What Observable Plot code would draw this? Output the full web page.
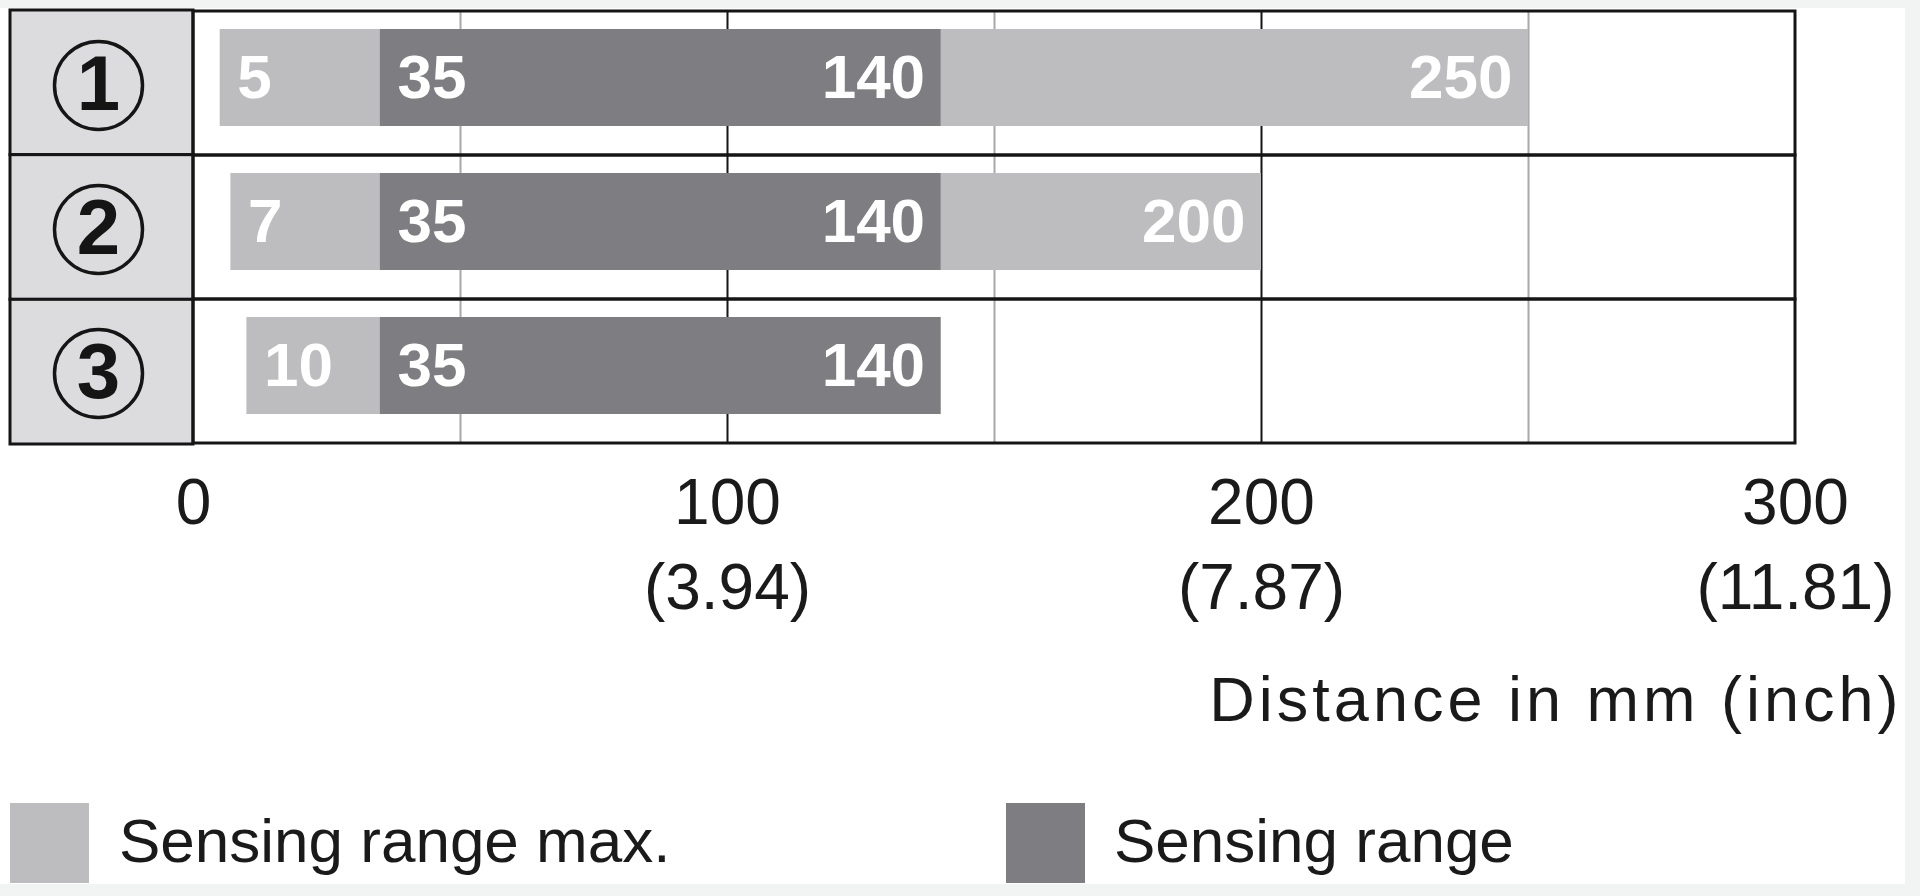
<!DOCTYPE html>
<html>
<head>
<meta charset="utf-8">
<script src="https://cdn.jsdelivr.net/npm/d3@7"></script>
<script src="https://cdn.jsdelivr.net/npm/@observablehq/plot@0.6"></script>
<style>
  html, body { margin: 0; padding: 0; width: 1920px; height: 896px; overflow: hidden; background: #f2f4f3;
    font-family: "Liberation Sans", Arial, sans-serif; color: #1a1a1a; }
  #panel { position: absolute; left: 0; top: 8px; width: 1905px; height: 876px; background: #ffffff; }
  #chart { position: absolute; left: 0; top: 0; }
  .lg-sw { position: absolute; top: 803px; width: 79px; height: 80px; }
  .lg-tx { position: absolute; top: 801px; height: 80px; line-height: 80px; font-size: 62px; color: #1a1a1a; white-space: nowrap; }
</style>
</head>
<body>
<div id="panel"></div>
<div id="chart"></div>
<div id="legend"></div>
<script>
// ---- data ----
const rows = ["1", "2", "3"];
const rowLabels = ["1", "2", "3"];
const maxStart = [5, 7, 10];
const rangeStart = [35, 35, 35];
const rangeEnd = [140, 140, 140];
const maxEnd = [250, 200, 140];
const mmTicks = [0, 100, 200, 300];
const inchTicks = ["", "(3.94)", "(7.87)", "(11.81)"];
const minorGrid = [50, 150, 250];
const majorGrid = [100, 200];
const axisTitle = "Distance in mm (inch)";
const legendLabels = ["Sensing range max.", "Sensing range"];
const colorMax = "#bdbdbf";
const colorRange = "#7e7e82";

const data = rows.map((r, i) => ({
  row: r, label: rowLabels[i],
  maxStart: maxStart[i], rangeStart: rangeStart[i], rangeEnd: rangeEnd[i], maxEnd: maxEnd[i]
}));

const W = 1920, H = 760;
const mTop = 10, mLeft = 193, mRight = 125, mBottom = H - 444;

function labelColumn(index, scales, values, dims) {
  const rowH = (dims.height - dims.marginTop - dims.marginBottom) / rows.length;
  const g = d3.create("svg:g");
  g.selectAll("rect").data(rows).join("rect")
    .attr("x", 10)
    .attr("width", dims.marginLeft - 10)
    .attr("y", (d, i) => dims.marginTop + i * rowH)
    .attr("height", rowH)
    .attr("fill", "#dcdcdf")
    .attr("stroke", "#151515")
    .attr("stroke-width", 3);
  return g.node();
}

const labelFont = { fontSize: 62, fontWeight: 600, fill: "white", dy: -5 };

const chart = Plot.plot({
  width: W, height: H,
  marginTop: mTop, marginLeft: mLeft, marginRight: mRight, marginBottom: mBottom,
  style: { fontFamily: "'Liberation Sans', Arial, sans-serif", color: "#1a1a1a", background: "transparent", overflow: "visible" },
  x: { domain: [mmTicks[0], mmTicks[mmTicks.length - 1]] },
  y: { domain: rows, padding: 0, axis: null },
  marks: [
    labelColumn,
    Plot.ruleX(minorGrid, { stroke: "#a8a8a8", strokeWidth: 2 }),
    Plot.ruleX(majorGrid, { stroke: "#151515", strokeWidth: 2 }),
    Plot.barX(data, { y: "row", x1: "maxStart", x2: "maxEnd", fill: colorMax, insetTop: 18, insetBottom: 29 }),
    Plot.barX(data, { y: "row", x1: "rangeStart", x2: "rangeEnd", fill: colorRange, insetTop: 18, insetBottom: 29 }),
    Plot.barX(data, { y: "row", x1: mmTicks[0], x2: mmTicks[mmTicks.length - 1], fill: "none", stroke: "#151515", strokeWidth: 3 }),
    // bar value labels
    Plot.text(data, { y: "row", x: "maxStart", text: d => String(d.maxStart), textAnchor: "start", dx: 17, ...labelFont }),
    Plot.text(data, { y: "row", x: "rangeStart", text: d => String(d.rangeStart), textAnchor: "start", dx: 17, ...labelFont }),
    Plot.text(data, { y: "row", x: "rangeEnd", text: d => String(d.rangeEnd), textAnchor: "end", dx: -16, ...labelFont }),
    Plot.text(data.filter(d => d.maxEnd > d.rangeEnd), { y: "row", x: "maxEnd", text: d => String(d.maxEnd), textAnchor: "end", dx: -16, ...labelFont }),
    // circled row numbers
    Plot.dot(data, { y: "row", frameAnchor: "left", dx: -95, dy: 2, r: 44, stroke: "#151515", strokeWidth: 3.5, fill: "none" }),
    Plot.text(data, { y: "row", text: "label", frameAnchor: "left", textAnchor: "middle", dx: -95, dy: 2, fontSize: 78, fontWeight: "bold", fill: "#151515" }),
    // x axis: mm and inch
    Plot.axisX(mmTicks, { anchor: "bottom", tickSize: 0, tickPadding: 34, fontSize: 64, tickFormat: d => String(d), fill: "#1a1a1a" }),
    Plot.axisX(mmTicks, { anchor: "bottom", tickSize: 0, tickPadding: 119, fontSize: 64, tickFormat: d => inchTicks[mmTicks.indexOf(d)], fill: "#1a1a1a" }),
    Plot.text([axisTitle], { frameAnchor: "bottom-right", dx: 107, dy: 256, textAnchor: "end", lineAnchor: "middle", fontSize: 63, fill: "#1a1a1a", className: "axis-title" })
  ]
});
document.getElementById("chart").appendChild(chart);
d3.select(chart).selectAll(".axis-title text").style("letter-spacing", "4px");

// legend
const legend = document.getElementById("legend");
const items = [
  { label: legendLabels[0], color: colorMax, sx: 10, tx: 119 },
  { label: legendLabels[1], color: colorRange, sx: 1006, tx: 1114 }
];
items.forEach(it => {
  const sw = document.createElement("div");
  sw.className = "lg-sw"; sw.style.left = it.sx + "px"; sw.style.background = it.color;
  const tx = document.createElement("div");
  tx.className = "lg-tx"; tx.style.left = it.tx + "px"; tx.textContent = it.label;
  legend.appendChild(sw); legend.appendChild(tx);
});
</script>
</body>
</html>
